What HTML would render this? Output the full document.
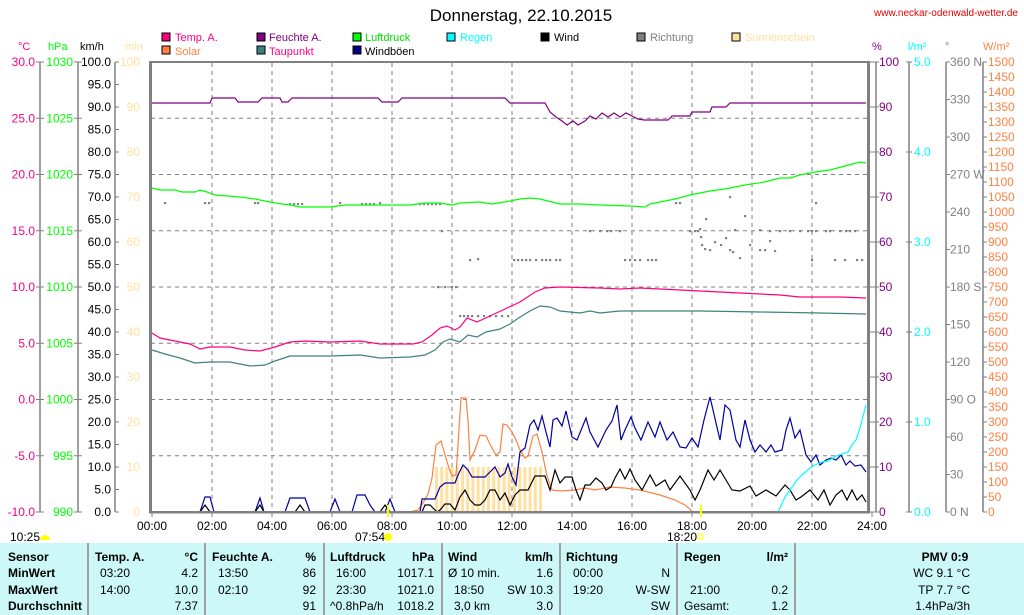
<!DOCTYPE html>
<html><head><meta charset="utf-8">
<style>
html,body{margin:0;padding:0;background:#fff;}
svg{display:block;font-family:"Liberation Sans",Arial,sans-serif;}
</style></head><body>
<svg id="s" width="1024" height="615" viewBox="0 0 1024 615" xmlns="http://www.w3.org/2000/svg">
<rect width="1024" height="615" fill="#fff"/>
<text x="521" y="21" font-size="17" text-anchor="middle" fill="#000">Donnerstag, 22.10.2015</text>
<text x="1018" y="16" font-size="10" text-anchor="end" fill="#e00000">www.neckar-odenwald-wetter.de</text>
<g font-size="11">
<rect x="162" y="33" width="8" height="8" fill="#ff0080" stroke="#000" stroke-width="1"/><text x="175" y="41" fill="#ff0080">Temp. A.</text>
<rect x="162" y="46" width="8" height="8" fill="#ff8040" stroke="#000"/><text x="175" y="55" fill="#ff8040">Solar</text>
<rect x="257" y="33" width="8" height="8" fill="#800080" stroke="#000"/><text x="269" y="41" fill="#800080">Feuchte A.</text>
<rect x="257" y="46" width="8" height="8" fill="#408080" stroke="#000"/><text x="269" y="55" fill="#ff0080">Taupunkt</text>
<rect x="353" y="33" width="8" height="8" fill="#00ff00" stroke="#000"/><text x="365" y="41" fill="#00e000">Luftdruck</text>
<rect x="353" y="46" width="8" height="8" fill="#000080" stroke="#000"/><text x="365" y="55" fill="#000">Windböen</text>
<rect x="447" y="33" width="8" height="8" fill="#00ffff" stroke="#000"/><text x="460" y="41" fill="#00ffff">Regen</text>
<rect x="541" y="33" width="8" height="8" fill="#000" stroke="#000"/><text x="554" y="41" fill="#000">Wind</text>
<rect x="637" y="33" width="8" height="8" fill="#808080" stroke="#000"/><text x="650" y="41" fill="#808080">Richtung</text>
<rect x="732" y="33" width="8" height="8" fill="#ffe0a0" stroke="#000"/><text x="745" y="41" fill="#ffe0a0">Sonnenschein</text>
</g>
<g font-size="11">
<text x="18" y="50" fill="#ff0080">°C</text><text x="48" y="50" fill="#00ff00">hPa</text><text x="80" y="50" fill="#000">km/h</text><text x="125" y="50" fill="#ffe0a0">min</text>
<text x="872" y="50" fill="#800080">%</text><text x="908" y="50" fill="#00ffff">l/m²</text><text x="945" y="50" fill="#808080">°</text><text x="983" y="50" fill="#ff8040">W/m²</text>
</g>
<g id="grid"></g>
<g id="axes" font-size="12"></g>
<g id="data" fill="none" stroke-width="1.2"></g>
<rect x="151" y="61" width="718" height="2" fill="#808080"/>
<rect x="149" y="61" width="3" height="452" fill="#808080"/>
<rect x="867" y="61" width="3" height="452" fill="#808080"/>
<rect x="149" y="511" width="721" height="2.5" fill="#808080"/>
<g font-size="12">
<text x="10" y="541">10:25</text><path d="M40,540 a5,5 0 0 1 10,0 z" fill="#ffff00"/>
<text x="355" y="541">07:54</text><circle cx="388" cy="537" r="4" fill="#ffff00"/><rect x="387" y="505" width="2" height="12" fill="#ffff00"/>
<text x="667" y="541">18:20</text><rect x="698" y="534" width="5" height="5" fill="none" stroke="#ffff00"/><rect x="700" y="505" width="2" height="12" fill="#ffff00"/>
</g>
<rect x="0" y="543" width="1024" height="72" fill="#ccf8f8"/>
<g fill="#a0a0a0"><rect x="87" y="543" width="2" height="72"/><rect x="204" y="543" width="2" height="72"/><rect x="323" y="543" width="2" height="72"/><rect x="441" y="543" width="2" height="72"/><rect x="559" y="543" width="2" height="72"/><rect x="676" y="543" width="2" height="72"/><rect x="794" y="543" width="2" height="72"/></g>
<g font-size="12" fill="#000">
<g font-weight="bold"><text x="8" y="561">Sensor</text><text x="8" y="577">MinWert</text><text x="8" y="594">MaxWert</text><text x="8" y="610">Durchschnitt</text>
<text x="95" y="561">Temp. A.</text><text x="198" y="561" text-anchor="end">°C</text>
<text x="212" y="561">Feuchte A.</text><text x="316" y="561" text-anchor="end">%</text>
<text x="330" y="561">Luftdruck</text><text x="434" y="561" text-anchor="end">hPa</text>
<text x="448" y="561">Wind</text><text x="553" y="561" text-anchor="end">km/h</text>
<text x="566" y="561">Richtung</text>
<text x="684" y="561">Regen</text><text x="788" y="561" text-anchor="end">l/m²</text>
<text x="945" y="561" text-anchor="middle">PMV 0:9</text></g>
<text x="100" y="577">03:20</text><text x="198" y="577" text-anchor="end">4.2</text>
<text x="100" y="594">14:00</text><text x="198" y="594" text-anchor="end">10.0</text>
<text x="198" y="610" text-anchor="end">7.37</text>
<text x="218" y="577">13:50</text><text x="316" y="577" text-anchor="end">86</text>
<text x="218" y="594">02:10</text><text x="316" y="594" text-anchor="end">92</text>
<text x="316" y="610" text-anchor="end">91</text>
<text x="336" y="577">16:00</text><text x="434" y="577" text-anchor="end">1017.1</text>
<text x="336" y="594">23:30</text><text x="434" y="594" text-anchor="end">1021.0</text>
<text x="330" y="610">^0.8hPa/h</text><text x="434" y="610" text-anchor="end">1018.2</text>
<text x="448" y="577">Ø 10 min.</text><text x="553" y="577" text-anchor="end">1.6</text>
<text x="454" y="594">18:50</text><text x="553" y="594" text-anchor="end">SW 10.3</text>
<text x="454" y="610">3,0 km</text><text x="553" y="610" text-anchor="end">3.0</text>
<text x="573" y="577">00:00</text><text x="670" y="577" text-anchor="end">N</text>
<text x="573" y="594">19:20</text><text x="670" y="594" text-anchor="end">W-SW</text>
<text x="670" y="610" text-anchor="end">SW</text>
<text x="690" y="594">21:00</text><text x="788" y="594" text-anchor="end">0.2</text>
<text x="684" y="610">Gesamt:</text><text x="788" y="610" text-anchor="end">1.2</text>
<text x="970" y="577" text-anchor="end">WC 9.1 °C</text>
<text x="970" y="594" text-anchor="end">TP 7.7 °C</text>
<text x="970" y="610" text-anchor="end">1.4hPa/3h</text>
</g>
<script>
(function(){
var NS="http://www.w3.org/2000/svg";
function el(p,t,a,txt){var e=document.createElementNS(NS,t);for(var k in a)e.setAttribute(k,a[k]);if(txt!=null)e.textContent=txt;p.appendChild(e);return e;}
var g=document.getElementById('grid'),ax=document.getElementById('axes'),d=document.getElementById('data');
for(var h=2;h<24;h+=2){var x=152+h*30;el(g,'line',{x1:x,y1:63,x2:x,y2:512,stroke:'#808080','stroke-dasharray':'4,4'});}
for(var k=1;k<8;k++){var y=62+56.25*k;el(g,'line',{x1:151,y1:y,x2:868,y2:y,stroke:'#808080','stroke-dasharray':'4,4'});}
for(var h=0;h<=24;h+=2){var x=152+h*30;el(ax,'text',{x:x,y:530,'text-anchor':'middle',fill:'#000'},(h<10?'0':'')+h+':00');el(ax,'line',{x1:x,y1:512,x2:x,y2:517,stroke:'#808080'});}
function vline(x,c){el(ax,'line',{x1:x,y1:62,x2:x,y2:512,stroke:c||'#808080','stroke-width':1.5});}
vline(40);vline(78);vline(115);vline(876);vline(909);vline(946);vline(983);
function lab(x,y,t,c,anc){el(ax,'text',{x:x,y:y+4,'text-anchor':anc,fill:c},t);}
for(var i=0;i<=8;i++){var y=62+56.25*i;
 var T=30-5*i;lab(35,y,T.toFixed(1),'#ff0080','end');el(ax,'line',{x1:36,y1:y,x2:44,y2:y,stroke:'#808080'});
 lab(73,y,String(1030-5*i),'#00ff00','end');el(ax,'line',{x1:74,y1:y,x2:82,y2:y,stroke:'#808080'});}
for(var i=0;i<=20;i++){var y=62+22.5*i;lab(111,y,(100-5*i).toFixed(1),'#000','end');el(ax,'line',{x1:115,y1:y,x2:119,y2:y,stroke:'#808080'});}
for(var i=0;i<=10;i++){var y=62+45*i;lab(140,y,String(100-10*i),'#ffe0a0','end');
 lab(879,y,String(100-10*i),'#800080','start');el(ax,'line',{x1:869,y1:y,x2:879,y2:y,stroke:'#808080'});}
for(var i=0;i<=5;i++){var y=62+90*i;lab(914,y,(5-i).toFixed(1),'#00ffff','start');el(ax,'line',{x1:906,y1:y,x2:912,y2:y,stroke:'#808080'});}
var dn={0:' N',3:' W',6:' S',9:' O',12:' N'};
for(var i=0;i<=12;i++){var y=62+37.5*i;lab(950,y,String(360-30*i)+(dn[i]||''),'#808080','start');el(ax,'line',{x1:946,y1:y,x2:950,y2:y,stroke:'#808080'});}
for(var i=0;i<=30;i++){var y=62+15*i;lab(988,y,String(1500-50*i),'#ff8040','start');el(ax,'line',{x1:983,y1:y,x2:987,y2:y,stroke:'#808080'});}
for(var x=435;x<=542;x+=5.2){el(d,'rect',{x:x,y:467,width:3,height:45,fill:'#ffe0a0',stroke:'none'});}
function pl(pts,c,w){el(d,'polyline',{points:pts,stroke:c,'stroke-width':w||1.2,fill:'none'});}
var dots=[[165,203],[205,203],[209,203],[255,203],[258,203],[290,204],[294,204],[298,204],[302,204],[340,203],[362,204],[366,204],[370,204],[374,204],[380,203],[420,204],[424,204],[428,204],[432,204],[436,204],[440,204],[442,231],[470,260],[478,259],[438,287],[445,287],[452,287],[456,287],[460,316],[464,316],[468,316],[472,316],[478,316],[484,316],[490,316],[496,316],[502,316],[508,316],[514,260],[518,260],[522,260],[526,260],[530,260],[536,260],[542,260],[546,260],[550,260],[556,260],[560,260],[590,231],[600,231],[607,231],[611,231],[620,231],[625,260],[630,260],[635,260],[640,260],[648,260],[652,260],[656,260],[676,203],[680,203],[690,231],[695,231],[698,231],[706,219],[700,229],[701,237],[702,245],[705,249],[710,250],[715,242],[721,245],[726,238],[730,250],[733,252],[735,230],[730,197],[745,216],[740,258],[750,245],[760,250],[765,250],[770,241],[775,251],[760,230],[770,231],[780,231],[790,231],[800,231],[808,231],[812,231],[816,231],[816,203],[826,231],[830,231],[840,231],[846,231],[850,231],[855,231],[812,260],[835,260],[845,260],[857,260],[862,260]];
dots.forEach(function(p){el(d,'rect',{x:p[0]-1,y:p[1]-1,width:2.2,height:2.2,fill:'#808080',stroke:'none'});});
pl("152,103 210,103 212,98 235,98 238,102 258,102 262,98 280,98 282,102 288,102 292,98 378,98 382,102 398,102 402,98 505,98 510,103 545,103 550,112 556,117 562,121 567,125 573,121 578,125 585,121 590,116 596,119 602,113 608,117 614,113 620,117 626,113 632,116 638,119 644,120 668,120 672,116 690,116 692,112 710,112 712,107 726,107 730,103 866,103",'#800080');
pl("152,188 160,190 175,190 182,192 195,192 200,190 207,192 215,195 240,197 255,199 265,201 275,203 290,205 300,207 330,207 345,205 360,205 380,205 395,205 410,205 425,203 440,203 452,205 460,203 480,202 492,204 510,201 520,199 530,198 540,199 560,204 580,204 600,205 630,206 645,207 650,204 660,202 675,199 690,195 710,191 725,189 745,185 765,182 780,178 790,178 800,175 815,172 830,170 845,166 860,162 866,163",'#00ff00');
pl("152,333 160,338 175,341 190,344 200,349 210,347 230,347 245,350 260,351 275,347 290,342 305,341 330,342 360,341 380,344 413,344 422,342 432,335 440,328 447,326 455,330 460,327 467,318 477,322 490,316 505,309 520,302 535,292 545,288 560,287 600,288 620,289 640,288 660,289 700,291 740,293 780,295 800,297 840,297 866,298",'#ff0080');
pl("152,350 165,354 180,358 195,363 210,362 230,362 250,366 265,365 275,361 290,356 330,356 360,355 380,358 410,357 425,355 435,350 443,342 450,339 460,342 468,335 477,337 486,332 500,329 510,324 520,317 530,311 540,306 550,307 560,311 570,312 580,313 590,311 600,313 620,311 650,311 700,311 760,312 820,313 866,314",'#408080');
pl("400,512 410,512 418,510 423,503 428,494 432,478 436,445 441,441 448,465 452,476 456,475 458,445 461,398 466,398 468,420 470,460 475,450 480,435 486,436 492,448 496,455 500,452 503,424 507,425 512,432 516,440 520,450 525,458 528,456 533,436 537,434 542,452 547,476 552,490 560,491 575,490 585,488 595,490 610,487 625,488 640,490 660,495 675,500 685,505 692,511",'#ff8040');
pl("152,512 200,512 205,497 210,497 214,512 255,512 260,498 264,512 285,512 290,498 305,498 310,512 330,512 335,499 340,512 352,512 357,495 365,495 370,505 375,512 385,512 390,499 395,512 420,512 422,499 435,499 440,487 445,483 455,483 458,475 463,465 468,470 472,477 485,477 490,472 495,467 500,477 505,473 508,464 512,477 516,485 520,452 525,448 530,425 534,420 538,430 542,416 546,432 550,447 553,420 557,418 562,426 566,411 572,437 577,440 586,418 590,432 598,447 606,430 612,421 617,405 621,440 625,430 631,417 635,428 641,440 648,422 655,437 660,422 667,440 673,432 680,447 686,448 692,438 698,447 704,420 710,397 716,423 720,440 725,405 730,410 736,440 740,447 745,420 750,440 755,452 760,445 766,452 771,445 775,452 782,450 786,430 790,418 795,438 800,430 806,455 811,462 816,455 820,465 826,460 831,458 836,460 841,455 846,465 850,461 855,466 861,465 866,472",'#0000a0');
pl("152,512 200,512 205,505 210,512 255,512 260,505 264,512 295,512 300,505 305,512 380,512 385,505 390,512 422,512 425,505 430,505 437,512 440,510 445,504 450,504 455,510 460,497 465,490 470,500 475,505 480,505 485,500 490,490 495,490 500,500 505,493 510,505 515,495 520,490 528,490 535,476 545,476 550,490 555,470 560,483 565,477 572,477 576,490 580,500 585,485 590,485 596,478 602,483 606,490 611,487 615,478 620,469 625,479 630,469 635,480 642,490 650,475 656,486 665,480 670,490 680,476 690,490 695,500 700,490 708,470 714,480 720,470 726,480 732,490 740,491 750,486 756,496 766,490 776,496 785,485 790,490 796,500 801,497 810,490 818,500 824,490 830,505 836,495 842,490 847,500 852,490 857,500 862,495 866,502",'#000');
pl("778,512 785,497 790,490 797,480 802,475 810,468 815,465 822,462 828,461 836,456 848,452 852,445 856,440 860,428 866,405",'#00ffff');
})();
</script>
</svg>
</body></html>
